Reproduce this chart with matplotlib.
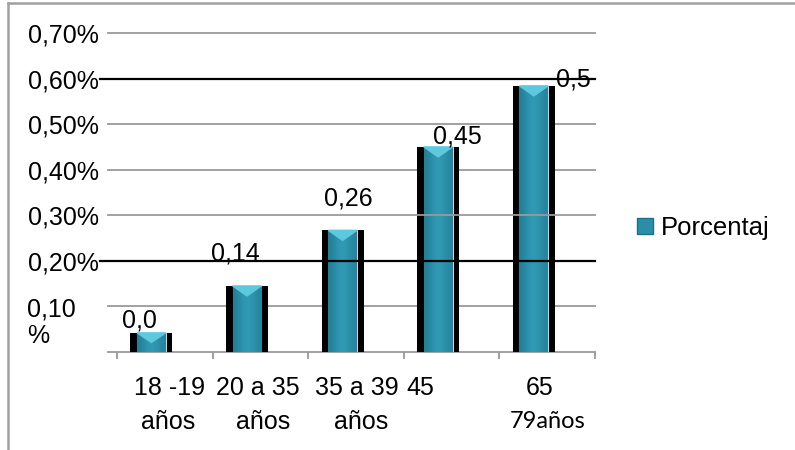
import numpy as np
import matplotlib.pyplot as plt
from matplotlib.lines import Line2D
from matplotlib.patches import Polygon, Patch

plt.rcParams['font.family'] = ['Liberation Sans', 'DejaVu Sans']

# datos
grupos_l1 = ["18 -19", "20 a 35", "35 a 39", "45", "65"]
grupos_l2 = ["años", "años", "años", "", "79años"]
porcentaje = [0.042, 0.145, 0.267, 0.45, 0.584]
etiquetas = ["0,0", "0,14", "0,26", "0,45", "0,5"]
ticks_y = [0.0, 0.1, 0.2, 0.3, 0.4, 0.5, 0.6, 0.7]
ticks_txt = ["", "", "0,20%", "0,30%", "0,40%", "0,50%", "0,60%", "0,70%"]
serie = "Porcentaj"

# desplazamientos de etiquetas (posicion, no datos)
lab_dx = [-0.12, -0.12, 0.06, 0.2, 0.41]
lab_dy = [0.028, 0.072, 0.07, 0.022, 0.013]
x1_dx = [0.05, -0.03, 0.01, -0.33, -0.08]
x2_dx = [0.03, 0.03, 0.05, 0.0, 0.0]

teal = '#2b8ea8'
gris = '#9a9a9a'

fig = plt.figure(figsize=(7.95, 4.5), dpi=100)
ax = fig.add_axes([108 / 795, 98 / 450, 487 / 795, 319 / 450])
for s in ax.spines.values():
    s.set_visible(False)

x = np.arange(len(porcentaje))

# lineas de division
for v in [0.0, 0.1, 0.4, 0.5, 0.7]:
    ax.axhline(v, color=gris, lw=1.3, zorder=1, clip_on=False)
ax.axhline(0.3, color=gris, lw=1.3, zorder=5, clip_on=False)
for v in [0.2, 0.6]:
    ax.axhline(v, xmin=-0.017, color='black', lw=1.6, zorder=5, clip_on=False)

# barras: sombra negra + cuerpo azul
xb = x - 0.14
ax.bar(xb, porcentaje, width=0.44, color='black', zorder=2)
bars = ax.bar(xb, porcentaje, width=0.30, color=teal, edgecolor='#e8f6fa',
              linewidth=0.6, zorder=3)

cm = plt.matplotlib.colors.LinearSegmentedColormap.from_list('tb', ['#237f98', '#329bb6'])
grad = np.array([[0.0, 0.7, 1.0, 0.7, 0.2]])
for b in bars:
    x0, w, h = b.get_x(), b.get_width(), b.get_height()
    im = ax.imshow(grad, cmap=cm, extent=[x0, x0 + w, 0, h],
                   aspect='auto', zorder=3.2, interpolation='bicubic')
    im.set_clip_path(b)
    d = min(0.022, h * 0.5)
    ax.add_patch(Polygon([[x0, h], [x0 + w, h], [x0 + w / 2, h - d]],
                         closed=True, color='#5ec8df', zorder=4))

ax.set_xlim(-0.594, 4.5)
ax.set_ylim(0, 0.7)

# etiquetas de datos
for i, t in enumerate(etiquetas):
    ax.text(xb[i] + lab_dx[i], porcentaje[i] + lab_dy[i], t, ha='center',
            va='center', fontsize=18, zorder=6)

# eje y
ax.set_yticks(ticks_y)
ax.set_yticklabels(ticks_txt, fontsize=18)
ax.tick_params(axis='y', length=0, pad=6.5)
ax.text(-0.1663, 0.064, "0,10\n%", transform=ax.get_yaxis_transform(),
        ha='left', va='center', fontsize=18, linespacing=1.15)

# eje x
ax.set_xticks([])
ax.set_xticks(np.arange(-0.5, 5, 1), minor=True)
ax.tick_params(axis='x', which='minor', length=5, width=1.3, color=gris,
               direction='out')
tr = ax.get_xaxis_transform()
for i in range(len(grupos_l1)):
    ax.text(x[i] + x1_dx[i], -0.113, grupos_l1[i], transform=tr,
            ha='center', va='center', fontsize=18)
    if grupos_l2[i] == "79años":
        ax.text(x[i] + x2_dx[i], -0.219, grupos_l2[i], transform=tr,
                ha='center', va='center', fontsize=17, family=['Lato', 'DejaVu Sans'])
    else:
        ax.text(x[i] + x2_dx[i], -0.219, grupos_l2[i], transform=tr,
                ha='center', va='center', fontsize=18)

# leyenda
h = Patch(facecolor=teal, edgecolor='#1f6f85', label=serie)
fig.legend(handles=[h], loc='center left', bbox_to_anchor=(637 / 795, 1 - 228 / 450),
           frameon=False, handlelength=0.62, handleheight=0.62, handletextpad=0.3,
           borderpad=0, borderaxespad=0, fontsize=18.5)

# borde
fig.add_artist(Line2D([8 / 795, 1], [1 - 3 / 450] * 2, transform=fig.transFigure,
                      color='#a0a0a0', lw=1.8))
fig.add_artist(Line2D([8 / 795] * 2, [0, 1 - 3 / 450], transform=fig.transFigure,
                      color='#a0a0a0', lw=1.8))

fig.savefig('out.png', dpi=100)
